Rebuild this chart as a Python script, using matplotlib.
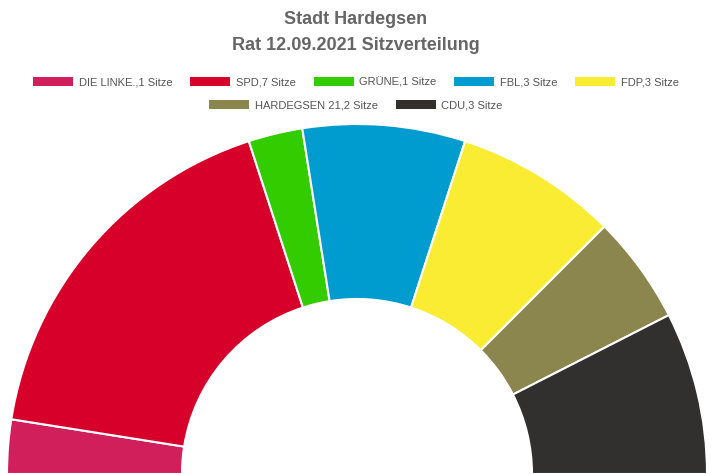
import matplotlib
matplotlib.use("Agg")
import matplotlib.pyplot as plt
from matplotlib.patches import Patch

labels = ["DIE LINKE.,1 Sitze", "SPD,7 Sitze", "GRÜNE,1 Sitze", "FBL,3 Sitze",
          "FDP,3 Sitze", "HARDEGSEN 21,2 Sitze", "CDU,3 Sitze"]
seats = [1, 7, 1, 3, 3, 2, 3]
colors = ["#D11F5C", "#D7002A", "#33CC00", "#009BCF", "#F9EC32", "#8B864E", "#32302E"]

fig = plt.figure(figsize=(7.12, 4.74), dpi=100)
ax = fig.add_axes([0, 0, 1, 1])
vals = seats + [sum(seats)]
cols = colors + ["none"]
wedges, _ = ax.pie(vals, colors=cols, startangle=180, counterclock=False,
                   radius=350, center=(357, 0), frame=True,
                   wedgeprops=dict(width=175, edgecolor="white", linewidth=1.5))
wedges[-1].set_edgecolor("none")
ax.set_xlim(0, 712)
ax.set_ylim(0, 474)
ax.set_aspect("equal")
ax.axis("off")

fig.text(0.5, 1 - 20/474, "Stadt Hardegsen", ha="center", va="center",
         fontsize=13, fontweight="bold", color="#666666", family="Liberation Sans")
fig.text(0.5, 1 - 45/474, "Rat 12.09.2021 Sitzverteilung", ha="center", va="center",
         fontsize=13, fontweight="bold", color="#666666", family="Liberation Sans")

handles = [Patch(facecolor=c, edgecolor="none") for c in colors]
kw = dict(frameon=False, prop={"family": "Liberation Sans", "size": 8}, labelcolor="#555555",
          handlelength=3.6, handleheight=0.9, handletextpad=0.5, columnspacing=1.6)
leg1 = fig.legend(handles[:5], labels[:5], ncol=5, loc="center",
                  bbox_to_anchor=(0.5, 1 - 82/474), **kw)
fig.legend(handles[5:], labels[5:], ncol=2, loc="center",
           bbox_to_anchor=(0.5, 1 - 105/474), **kw)
fig.savefig("out.png", dpi=100)
